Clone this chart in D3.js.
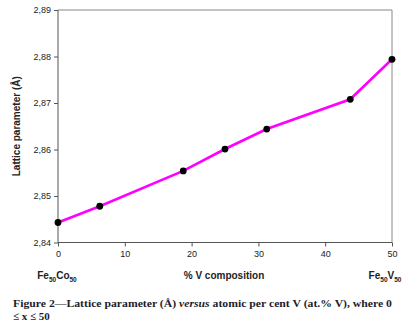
<!DOCTYPE html>
<html><head><meta charset="utf-8">
<script src="https://cdn.jsdelivr.net/npm/d3@7"></script>
<style>body{margin:0;background:#fff}svg{display:block}</style>
</head><body>
<svg id="c" width="413" height="328"></svg>
<script>
const composition = [0, 6.25, 18.75, 25, 31.25, 43.75, 50];
const latticeParam = [2.8443, 2.8478, 2.8554, 2.8601, 2.8644, 2.8708, 2.8794];
const xTicks = [0, 10, 20, 30, 40, 50];
const yTicks = [2.84, 2.85, 2.86, 2.87, 2.88, 2.89];

const svg = d3.select("#c");
const L = 58, R = 392, T = 10, B = 242.5;
const x = d3.scaleLinear().domain([0, 50]).range([L, R]);
const y = d3.scaleLinear().domain([2.84, 2.89]).range([B, T]);
const fmt = d => d3.format(".2f")(d).replace(".", ",");

// frame top/right
svg.append("path").attr("d", `M${L},${T}H${R}V${B}`).attr("fill", "none").attr("stroke", "#888").attr("stroke-width", 1);

const ya = svg.append("g").attr("transform", `translate(${L},0)`)
  .call(d3.axisLeft(y).tickValues(yTicks).tickFormat(fmt).tickSize(4).tickPadding(3));
const xa = svg.append("g").attr("transform", `translate(0,${B})`)
  .call(d3.axisBottom(x).tickValues(xTicks).tickSize(4).tickPadding(4));
[ya, xa].forEach(a => {
  a.select(".domain").attr("stroke", "#555");
  a.selectAll(".tick line").attr("stroke", "#555");
  a.selectAll("text").attr("font-family", "Liberation Sans, Arial, sans-serif").attr("font-size", 9).attr("fill", "#222");
});
ya.select(".domain").attr("d", `M0,${T}V${B}`);
xa.select(".domain").attr("d", `M${L},0H${R}`);

const line = d3.line().x((d, i) => x(composition[i])).y(d => y(d));
svg.append("path").datum(latticeParam).attr("d", line)
  .attr("fill", "none").attr("stroke", "#ff00ff").attr("stroke-width", 2.6);
svg.selectAll("circle.pt").data(latticeParam).enter().append("circle")
  .attr("cx", (d, i) => x(composition[i])).attr("cy", d => y(d)).attr("r", 3.4).attr("fill", "#000");

const sans = "Liberation Sans, Arial, sans-serif";
svg.append("text").attr("transform", `translate(20,${(T + B) / 2}) rotate(-90)`)
  .attr("text-anchor", "middle").attr("font-family", sans).attr("font-weight", "bold").attr("font-size", 10)
  .attr("fill", "#222").text("Lattice parameter (Å)");
svg.append("text").attr("x", 224).attr("y", 279).attr("text-anchor", "middle")
  .attr("font-family", sans).attr("font-weight", "bold").attr("font-size", 10).attr("fill", "#222").text("% V composition");

function sub(xc, parts) {
  const t = svg.append("text").attr("x", xc).attr("y", 279).attr("text-anchor", "middle")
    .attr("font-family", sans).attr("font-weight", "bold").attr("font-size", 10).attr("fill", "#222");
  parts.forEach(p => {
    if (p.s) t.append("tspan").attr("font-size", 6.5).attr("dy", 2.5).text(p.t);
    else t.append("tspan").attr("dy", p.first ? 0 : -2.5).text(p.t);
  });
}
sub(57, [{t: "Fe", first: true}, {t: "50", s: true}, {t: "Co"}, {t: "50", s: true}]);
sub(385, [{t: "Fe", first: true}, {t: "50", s: true}, {t: "V"}, {t: "50", s: true}]);

const cap = svg.append("text").attr("x", 13).attr("y", 307).attr("font-family", "Liberation Serif, Times New Roman, serif")
  .attr("font-weight", "bold").attr("font-size", 11).attr("fill", "#1d1d2b")
  .attr("textLength", 379).attr("lengthAdjust", "spacingAndGlyphs");
cap.append("tspan").text("Figure 2—Lattice parameter (Å) ");
cap.append("tspan").attr("font-style", "italic").text("versus");
cap.append("tspan").text(" atomic per cent V (at.% V), where 0");
svg.append("text").attr("x", 13).attr("y", 319.5).attr("font-family", "Liberation Serif, Times New Roman, serif")
  .attr("font-weight", "bold").attr("font-size", 11).attr("fill", "#1d1d2b").text("≤ x ≤ 50");
</script>
</body></html>
